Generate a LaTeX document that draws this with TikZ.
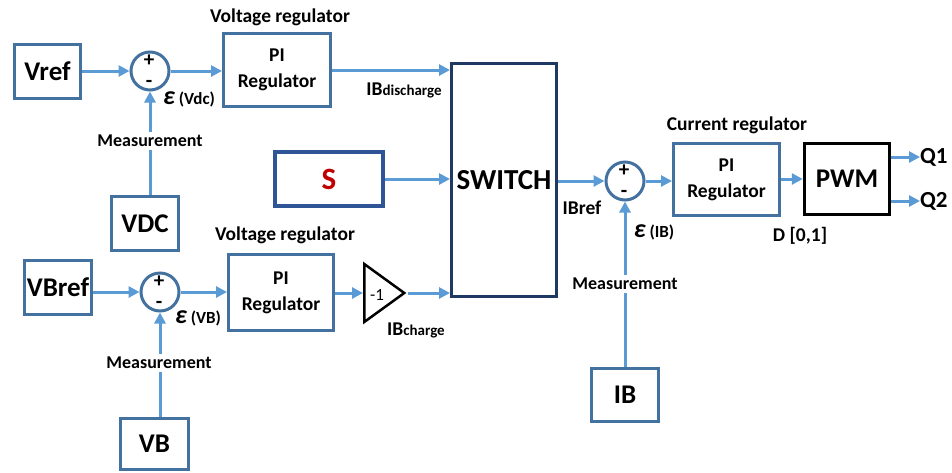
\documentclass[tikz,border=0pt]{standalone}
\usepackage{fontspec}
\setmainfont{Carlito}
\usetikzlibrary{arrows.meta,shapes.geometric}
\definecolor{boxc}{RGB}{68,114,160}
\definecolor{arrc}{RGB}{91,155,213}
\definecolor{navy}{RGB}{31,56,100}
\definecolor{sborder}{RGB}{47,85,151}
\definecolor{sred}{RGB}{192,0,0}
\newcommand{\fs}[1]{\fontsize{#1}{#1}\selectfont}
\begin{document}
\begin{tikzpicture}[x=1pt,y=-1pt,
  blk/.style={draw=boxc, line width=3pt, fill=white, inner sep=0pt, font=\bfseries\fs{27}},
  pibox/.style={draw=boxc, line width=3pt, fill=white, inner sep=0pt, align=center, font=\bfseries\fontsize{19.5}{26}\selectfont},
  sumc/.style={circle, draw=boxc, line width=3pt, minimum size=38pt, inner sep=0pt},
  sign/.style={font=\bfseries\fs{21}, inner sep=0pt},
  lab/.style={font=\bfseries\fs{19.5}, inner sep=0pt},
  meas/.style={font=\bfseries\fs{18}, inner sep=3pt},
  arr/.style={draw=arrc, line width=3pt, -{Triangle[length=11pt,width=11pt]}},
  ln/.style={draw=arrc, line width=3pt},
  eps/.style={font=\bfseries\fs{17}, inner sep=0pt}
]
\useasboundingbox (0,0) rectangle (952,472);

% --- top voltage loop
\node[blk, minimum width=66pt, minimum height=54pt] (vref) at (47.5,71.5) {Vref};
\node[sumc] (sum1) at (150,71) {};
\node[sign] (p1) at (149,61) {+};
\node[sign] (n1) at (149,84) {-};
\node[pibox, minimum width=107pt, minimum height=73pt] (pi1) at (277,70) {PI\\Regulator};
\node[lab] (vr1) at (280,17) {Voltage regulator};
\node[eps] (e1) at (189,99) {{\itshape\fs{26}ε} (Vdc)};
\node[meas] (m1) at (150,141) {Measurement};
\node[blk, minimum width=67pt, minimum height=54pt] (vdc) at (145,223.5) {VDC};
\node[lab] (ibd) at (404,90) {IB{\fs{15}discharge}};

% --- switch and S
\node[draw=navy, line width=3pt, fill=white, minimum width=105pt, minimum height=233pt, font=\bfseries\fs{29}] (sw) at (504,180) {SWITCH};
\node[draw=sborder, line width=4.5pt, fill=white, minimum width=108pt, minimum height=54pt, text=sred, font=\bfseries\fs{31}] (s) at (329,179) {S};

% --- bottom voltage loop
\node[blk, minimum width=67pt, minimum height=54pt] (vbref) at (58,287.5) {VBref};
\node[sumc] (sum2) at (160,292) {};
\node[sign] (p2) at (159,282) {+};
\node[sign] (n2) at (159,305) {-};
\node[pibox, minimum width=105pt, minimum height=76pt] (pi2) at (281,292.5) {PI\\Regulator};
\node[lab] (vr2) at (285,235) {Voltage regulator};
\node[eps] (e2) at (198,318) {{\itshape\fs{26}ε} (VB)};
\node[isosceles triangle, isosceles triangle stretches, draw=black, line width=2.5pt, fill=white, minimum height=40pt, minimum width=58pt, inner sep=0pt, anchor=lower side] (gain) at (363,293) {};
\node[font=\fs{17}, inner sep=0pt] (gtxt) at (377,295) {-1};
\node[lab] (ibc) at (416,330) {IB{\fs{15}charge}};
\node[meas] (m2) at (159,363) {Measurement};
\node[blk, minimum width=68pt, minimum height=51pt] (vb) at (154.5,443.5) {VB};

% --- current loop
\node[sumc] (sum3) at (625,181) {};
\node[sign] (p3) at (624,171) {+};
\node[sign] (n3) at (624,194) {-};
\node[lab] (ibref) at (582,208) {IBref};
\node[eps] (e3) at (654,232) {{\itshape\fs{26}ε} (IB)};
\node[meas] (m3) at (625,284) {Measurement};
\node[blk, minimum width=67pt, minimum height=53pt] (ib) at (625,395) {IB};
\node[pibox, minimum width=106pt, minimum height=72pt] (pi3) at (726.5,179.5) {PI\\Regulator};
\node[lab] (cr) at (737,125) {Current regulator};
\node[draw=black, line width=3.5pt, fill=white, minimum width=85pt, minimum height=71pt, inner sep=0pt, font=\bfseries\fs{27}] (pwm) at (847,179) {PWM};
\node[lab] (dd) at (800,236) {D [0,1]};
\node[font=\bfseries\fs{23}, inner sep=0pt, anchor=west] (q1) at (920,157) {Q1};
\node[font=\bfseries\fs{23}, inner sep=0pt, anchor=west] (q2) at (920,201) {Q2};

% --- connectors
\draw[arr] (vref.east |- sum1.west) -- (sum1.west);
\draw[arr] (sum1.east) -- (sum1.east -| pi1.west);
\draw[arr] (m1.north -| sum1.south) -- (sum1.south);
\draw[ln] (vdc.north -| sum1.south) -- (m1.south -| sum1.south);
\draw[arr] (pi1.east) -- (pi1.east -| sw.west);
\draw[arr] (s.east) -- (s.east -| sw.west);

\draw[arr] (vbref.east |- sum2.west) -- (sum2.west);
\draw[arr] (sum2.east) -- (sum2.east -| pi2.west);
\draw[arr] (m2.north -| sum2.south) -- (sum2.south);
\draw[ln] (vb.north -| sum2.south) -- (m2.south -| sum2.south);
\draw[arr] (pi2.east |- gain.lower side) -- (gain.lower side);
\draw[arr] (gain.apex) -- (gain.apex -| sw.west);

\draw[arr] (sw.east |- sum3.west) -- (sum3.west);
\draw[arr] (sum3.east) -- (sum3.east -| pi3.west);
\draw[arr] (m3.north) -- (sum3.south);
\draw[ln] (ib.north) -- (m3.south);
\draw[arr] (pi3.east |- pwm.west) -- (pwm.west);
\draw[arr] (pwm.east |- q1.west) -- (q1.west);
\draw[arr] (pwm.east |- q2.west) -- (q2.west);
\end{tikzpicture}
\end{document}
